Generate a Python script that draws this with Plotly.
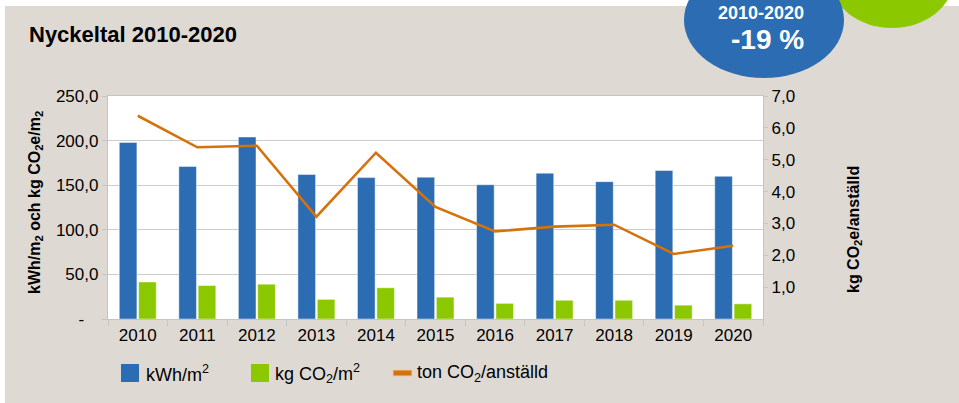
import plotly.graph_objects as go

# ---- data ----
years = ["2010", "2011", "2012", "2013", "2014", "2015", "2016", "2017", "2018", "2019", "2020"]
kwh_m2 = [198, 171, 204, 162, 158.5, 159, 150.5, 163.5, 154, 166.5, 160]
kg_co2_m2 = [41.5, 37.5, 39, 22, 35, 24.5, 17.5, 21, 21, 15.5, 17]
ton_co2_emp = [6.38, 5.39, 5.44, 3.21, 5.22, 3.52, 2.75, 2.90, 2.96, 2.04, 2.30]
left_ticks = [0, 50, 100, 150, 200, 250]
left_ticktext = ["-\u00a0\u00a0\u00a0", "50,0", "100,0", "150,0", "200,0", "250,0"]
right_ticks = [1, 2, 3, 4, 5, 6, 7]
right_ticktext = ["1,0", "2,0", "3,0", "4,0", "5,0", "6,0", "7,0"]

BLUE = "#2b6cb3"
GREEN = "#8cc800"
ORANGE = "#d5720a"
BEIGE = "#dfd9d3"
FONT = "Liberation Sans, Arial, sans-serif"

W, H = 959, 403
L, R, T, B = 108, 763, 96, 319


def px(x):
    return (x - L) / (R - L)


def py(y):
    return (B - y) / (B - T)


fig = go.Figure()
fig.add_trace(go.Bar(x=years, y=kwh_m2, name="kWh/m<sup>2</sup>", marker_color=BLUE,
                     marker_line=dict(color="rgba(255,255,255,0.45)", width=1), showlegend=False))
fig.add_trace(go.Bar(x=years, y=kg_co2_m2, name="kg CO<sub>2</sub>/m<sup>2</sup>", marker_color=GREEN,
                     marker_line=dict(color="rgba(255,255,255,0.45)", width=1), showlegend=False))
fig.add_trace(go.Scatter(x=years, y=ton_co2_emp, name="ton CO<sub>2</sub>/anställd", yaxis="y2",
                         mode="lines", line=dict(color=ORANGE, width=2.6), showlegend=False))

shapes = [
    dict(type="rect", xref="paper", yref="paper", x0=px(5), x1=px(W + 5), y0=py(H + 5), y1=py(6),
         fillcolor=BEIGE, line_width=0, layer="below"),
    dict(type="rect", xref="paper", yref="paper", x0=0, x1=1, y0=0, y1=1,
         fillcolor="white", line_width=0, layer="below"),
    # badge ellipses
    dict(type="circle", xref="paper", yref="paper", x0=px(830), x1=px(954), y0=py(28), y1=py(-72),
         fillcolor=GREEN, line_width=0),
    dict(type="circle", xref="paper", yref="paper", x0=px(684), x1=px(844), y0=py(78), y1=py(-38),
         fillcolor=BLUE, line_width=0),
    # legend swatches
    dict(type="rect", xref="paper", yref="paper", x0=px(121), x1=px(139), y0=py(382), y1=py(364),
         fillcolor=BLUE, line_width=0),
    dict(type="rect", xref="paper", yref="paper", x0=px(251), x1=px(269), y0=py(382), y1=py(364),
         fillcolor=GREEN, line_width=0),
    dict(type="rect", xref="paper", yref="paper", x0=px(393), x1=px(412), y0=py(376), y1=py(370),
         fillcolor=ORANGE, line=dict(color="#f0c8a0", width=1)),
]

annotations = [
    dict(text="2010-2020", x=px(806), y=py(13), xref="paper", yref="paper", xanchor="right", yanchor="middle",
         showarrow=False, font=dict(family=FONT, size=18, color="white", weight="bold")),
    dict(text="-19 %", x=px(806), y=py(40), xref="paper", yref="paper", xanchor="right", yanchor="middle",
         showarrow=False, font=dict(family=FONT, size=28, color="white", weight="bold")),
    dict(text="kWh/m<sub>2</sub> och kg CO<sub>2</sub>e/m<sub>2</sub>", x=px(35), y=py(203),
         xref="paper", yref="paper", xanchor="center", yanchor="middle", textangle=-90, showarrow=False,
         font=dict(family=FONT, size=16, color="black", weight="bold")),
    dict(text="kg CO<sub>2</sub>e/anställd", x=px(854), y=py(230),
         xref="paper", yref="paper", xanchor="center", yanchor="middle", textangle=-90, showarrow=False,
         font=dict(family=FONT, size=16, color="black", weight="bold")),
    dict(text="kWh/m<sup>2</sup>", x=px(144), y=py(373), xref="paper", yref="paper",
         xanchor="left", yanchor="middle", showarrow=False, font=dict(family=FONT, size=18, color="black")),
    dict(text="kg CO<sub>2</sub>/m<sup>2</sup>", x=px(273), y=py(373), xref="paper", yref="paper",
         xanchor="left", yanchor="middle", showarrow=False, font=dict(family=FONT, size=18, color="black")),
    dict(text="ton CO<sub>2</sub>/anställd", x=px(415), y=py(373), xref="paper", yref="paper",
         xanchor="left", yanchor="middle", showarrow=False, font=dict(family=FONT, size=18, color="black")),
]

fig.update_layout(
    width=W, height=H,
    margin=dict(l=L, r=W - R, t=T, b=H - B, pad=0),
    paper_bgcolor="white", plot_bgcolor="white",
    font=dict(family=FONT, size=17, color="black"),
    title=dict(text="<b>Nyckeltal 2010-2020</b>", x=29 / W, xanchor="left", y=1 - 34 / H, yanchor="middle",
               font=dict(family=FONT, size=22, color="black")),
    barmode="group", bargap=0.35, bargroupgap=0.09,
    showlegend=False,
    shapes=shapes, annotations=annotations,
    xaxis=dict(type="category", showline=True, linecolor="#c4c4c4", linewidth=1.3, mirror=True,
               ticks="outside", tickson="boundaries", ticklen=6, tickcolor="#c4c4c4",
               showgrid=False, tickfont=dict(size=17)),
    yaxis=dict(range=[0, 250], tickvals=left_ticks, ticktext=left_ticktext, showline=True,
               linecolor="#c4c4c4", linewidth=1.3, ticks="outside", ticklen=5, tickcolor="#c4c4c4",
               showgrid=True, gridcolor="#cccccc", gridwidth=1.3, zeroline=False, tickfont=dict(size=17)),
    yaxis2=dict(range=[0, 7], tickvals=right_ticks, ticktext=right_ticktext, overlaying="y", side="right",
                showline=True, linecolor="#c4c4c4", linewidth=1.3, ticks="outside", ticklen=4,
                tickcolor="#c4c4c4", showgrid=False, zeroline=False, tickfont=dict(size=17)),
)

fig.write_html("out.html", config={"displayModeBar": False},
               post_script="document.body.style.margin='0';document.body.style.overflow='hidden';")
